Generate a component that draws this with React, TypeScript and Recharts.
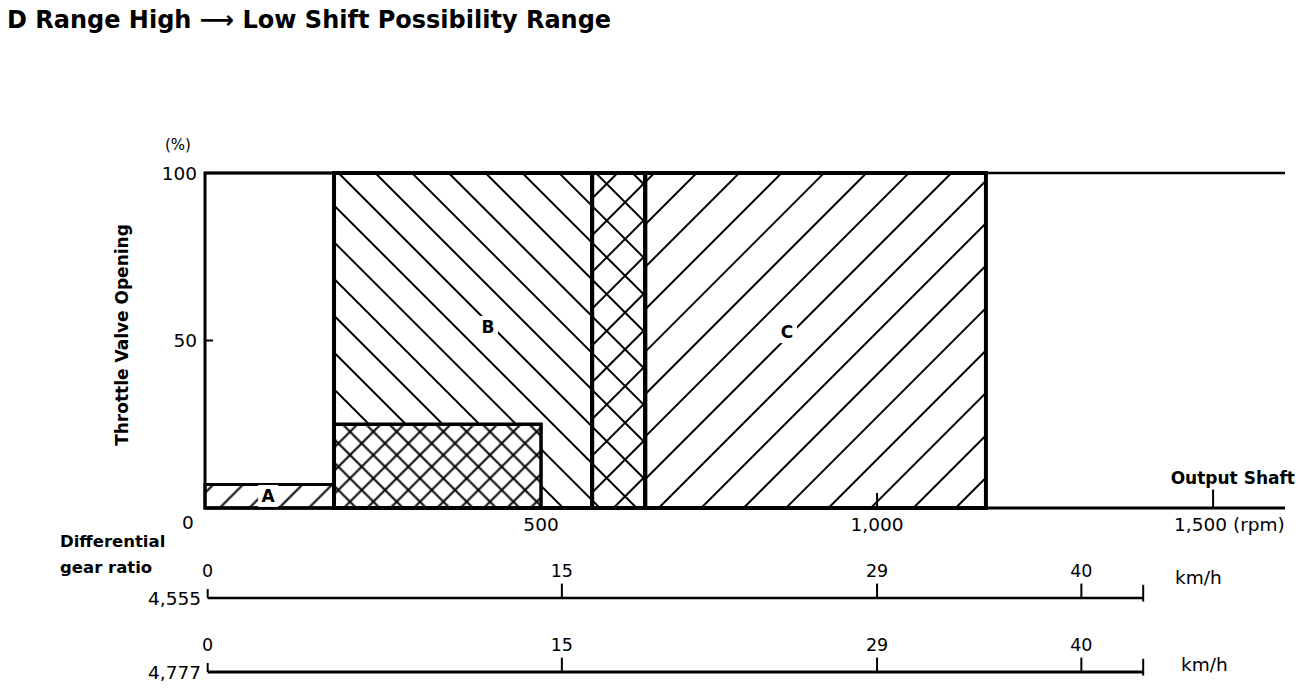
import React from 'react';
import { ComposedChart, XAxis, YAxis, ReferenceArea, ReferenceLine, Scatter } from 'recharts';

const TITLE = 'D Range High ⟶ Low Shift Possibility Range';
const RPM_MAX = 1607;
const rpmTicks = [500, 1000, 1500];
const rpmTickLabels = ['500', '1,000', '1,500 (rpm)'];
const rpmTickMarkHeights = [0, 4.5, 5.5];
const pctTicks = [50, 100];

// hatched regions (rpm, %)
const hatchAreas = [
  { key: 'A', x1: 0, x2: 192, y1: 0, y2: 7, pattern: 'hatchA' },
  { key: 'B', x1: 192, x2: 576, y1: 0, y2: 100, pattern: 'hatchB' },
  { key: 'C', x1: 655, x2: 1162, y1: 0, y2: 100, pattern: 'hatchC' },
  { key: 'AB', x1: 192, x2: 500, y1: 0, y2: 25, pattern: 'crossFine' },
  { key: 'BC', x1: 576, x2: 655, y1: 0, y2: 100, pattern: 'crossWide' },
];
const outlineAreas = [
  { x1: 0, x2: 192, y1: 0, y2: 100, w: 3 },
  { x1: 0, x2: 192, y1: 0, y2: 7, w: 3 },
  { x1: 192, x2: 576, y1: 0, y2: 100, w: 4 },
  { x1: 192, x2: 500, y1: 0, y2: 25, w: 3.5 },
  { x1: 576, x2: 655, y1: 0, y2: 100, w: 4 },
  { x1: 655, x2: 1162, y1: 0, y2: 100, w: 4 },
];
const regionLabels = [
  { x: 94, y: 3.6, name: 'A' },
  { x: 421, y: 54, name: 'B' },
  { x: 866, y: 52.5, name: 'C' },
];

// vehicle speed scales, km/h ticks placed at their output shaft rpm
const kmhLabels = ['0', '15', '29', '40'];
const kmhRpm = [4, 531, 1000, 1304];
const kmhEnd = 1396;
const gearRatios = ['4,555', '4,777'];

const FONT = '"DejaVu Sans", sans-serif';

const Patterns = () => (
  <svg width={0} height={0} style={{ position: 'absolute' }}>
    <defs>
      <pattern id="hatchA" patternUnits="userSpaceOnUse" width={21} height={21} patternTransform="rotate(45)">
        <rect width={21} height={21} fill="#fff" />
        <line x1={10.5} y1={0} x2={10.5} y2={21} stroke="#000" strokeWidth={2} />
      </pattern>
      <pattern id="hatchB" patternUnits="userSpaceOnUse" width={26} height={26} patternTransform="rotate(-45)">
        <rect width={26} height={26} fill="#fff" />
        <line x1={13} y1={0} x2={13} y2={26} stroke="#000" strokeWidth={2} />
      </pattern>
      <pattern id="hatchC" patternUnits="userSpaceOnUse" width={30} height={30} patternTransform="rotate(45)">
        <rect width={30} height={30} fill="#fff" />
        <line x1={15} y1={0} x2={15} y2={30} stroke="#000" strokeWidth={2} />
      </pattern>
      <pattern id="crossFine" patternUnits="userSpaceOnUse" width={16.5} height={16.5} patternTransform="rotate(45)">
        <rect width={16.5} height={16.5} fill="#fff" />
        <line x1={8.25} y1={0} x2={8.25} y2={16.5} stroke="#000" strokeWidth={2} />
        <line x1={0} y1={8.25} x2={16.5} y2={8.25} stroke="#000" strokeWidth={2} />
      </pattern>
      <pattern id="crossWide" patternUnits="userSpaceOnUse" width={26} height={26} patternTransform="rotate(45)">
        <rect width={26} height={26} fill="#fff" />
        <line x1={13} y1={0} x2={13} y2={26} stroke="#000" strokeWidth={2} />
        <line x1={0} y1={13} x2={26} y2={13} stroke="#000" strokeWidth={2} />
      </pattern>
    </defs>
  </svg>
);

const RpmTick = (props: any) => {
  const { x, y, payload } = props;
  const i = rpmTicks.indexOf(payload.value);
  const label = rpmTickLabels[i] ?? String(payload.value);
  const isLast = i === rpmTicks.length - 1;
  return (
    <text
      x={isLast ? x - 39 : x}
      y={y + 2}
      dy="0.71em"
      textAnchor={isLast ? 'start' : 'middle'}
      fontFamily={FONT}
      fontSize={18.5}
      fill="#000"
    >
      {label}
    </text>
  );
};

const PctTick = (props: any) => {
  const { x, y, payload } = props;
  return (
    <text x={x} y={y} dy="0.36em" textAnchor="end" fontFamily={FONT} fontSize={18.5} fill="#000">
      {payload.value}
    </text>
  );
};

const RegionLabel = (props: any) => {
  const { cx, cy, payload } = props;
  return (
    <g>
      <rect x={cx - 10} y={cy - 11} width={20} height={22} fill="#fff" />
      <text x={cx} y={cy} dy="0.36em" textAnchor="middle" fontFamily={FONT} fontWeight="bold" fontSize={17} fill="#000">
        {payload.name}
      </text>
    </g>
  );
};

const KmhLabel = (props: any) => {
  const { cx, cy, payload } = props;
  return (
    <text x={cx} y={cy} dy="0.36em" textAnchor="middle" fontFamily={FONT} fontSize={17.5} fill="#000">
      {payload.label}
    </text>
  );
};

const SpeedScale = ({ top, lineWidth }: { top: number; lineWidth: number }) => {
  const pts = kmhLabels.map((label, i) => ({ x: kmhRpm[i], y: 0.45, label }));
  return (
    <div style={{ position: 'absolute', left: 0, top, width: 1312, height: 70 }}>
      <ComposedChart width={1312} height={70} margin={{ top: 0, right: 27, bottom: 10, left: 205 }}>
        <XAxis type="number" dataKey="x" domain={[0, RPM_MAX]} hide />
        <YAxis type="number" dataKey="y" domain={[0, 1]} hide />
        <ReferenceLine
          segment={[{ x: kmhRpm[0], y: 0 }, { x: kmhEnd, y: 0 }]}
          stroke="#000"
          strokeWidth={lineWidth}
          ifOverflow="visible"
        />
        {kmhRpm.map((r, i) => (
          <ReferenceLine
            key={i}
            segment={[{ x: r, y: 0 }, { x: r, y: i === 0 ? 0.15 : 0.24 }]}
            stroke="#000"
            strokeWidth={2}
            ifOverflow="visible"
          />
        ))}
        <ReferenceLine
          segment={[{ x: kmhEnd, y: -0.06 }, { x: kmhEnd, y: 0.22 }]}
          stroke="#000"
          strokeWidth={2}
          ifOverflow="visible"
        />
        <Scatter data={pts} shape={<KmhLabel />} isAnimationActive={false} />
      </ComposedChart>
    </div>
  );
};

export default function App() {
  return (
    <div style={{ position: 'absolute', left: 0, top: 0, width: 1312, height: 692, background: '#fff', overflow: 'hidden' }}>
      <Patterns />
      <div style={{ position: 'absolute', left: 0, top: 0 }}>
        <ComposedChart width={1312} height={692} margin={{ top: 173, right: 27, bottom: 154, left: 145 }}>
          <XAxis
            type="number"
            dataKey="x"
            domain={[0, RPM_MAX]}
            ticks={rpmTicks}
            tick={<RpmTick />}
            tickLine={false}
            axisLine={{ stroke: '#000', strokeWidth: 3 }}
            height={30}
          />
          <YAxis
            type="number"
            dataKey="y"
            domain={[0, 100]}
            ticks={pctTicks}
            tick={<PctTick />}
            tickLine={false}
            axisLine={false}
            width={60}
          />
          {hatchAreas.map((a) => (
            <ReferenceArea
              key={a.key}
              x1={a.x1}
              x2={a.x2}
              y1={a.y1}
              y2={a.y2}
              fill={`url(#${a.pattern})`}
              fillOpacity={1}
              stroke="none"
            />
          ))}
          <ReferenceLine y={100} stroke="#000" strokeWidth={2.5} />
          {outlineAreas.map((a, i) => (
            <ReferenceArea
              key={i}
              x1={a.x1}
              x2={a.x2}
              y1={a.y1}
              y2={a.y2}
              fill="none"
              stroke="#000"
              strokeWidth={a.w}
            />
          ))}
          {rpmTicks.map((t, i) =>
            rpmTickMarkHeights[i] > 0 ? (
              <ReferenceLine
                key={t}
                segment={[{ x: t, y: 0 }, { x: t, y: rpmTickMarkHeights[i] }]}
                stroke="#000"
                strokeWidth={2}
              />
            ) : null
          )}
          <ReferenceLine segment={[{ x: 0, y: 50 }, { x: 12, y: 50 }]} stroke="#000" strokeWidth={2} />
          <Scatter data={regionLabels} shape={<RegionLabel />} isAnimationActive={false} />
        </ComposedChart>
      </div>
      <SpeedScale top={538} lineWidth={2.5} />
      <SpeedScale top={612} lineWidth={3} />
      <svg width={1312} height={692} style={{ position: 'absolute', left: 0, top: 0, pointerEvents: 'none' }}>
        <text x={7} y={28} fontFamily={FONT} fontWeight="bold" fontSize={24} fill="#000">{TITLE}</text>
        <text x={165} y={150} fontFamily={FONT} fontSize={15} fill="#000">(%)</text>
        <text x={188} y={522} dy="0.36em" textAnchor="middle" fontFamily={FONT} fontSize={18.5} fill="#000">0</text>
        <text
          x={122}
          y={335}
          transform="rotate(-90 122 335)"
          dy="0.36em"
          textAnchor="middle"
          fontFamily={FONT}
          fontWeight="bold"
          fontSize={17}
          fill="#000"
        >
          Throttle Valve Opening
        </text>
        <text x={1295} y={484} textAnchor="end" fontFamily={FONT} fontWeight="bold" fontSize={17} fill="#000">Output Shaft</text>
        <text x={60} y={547} fontFamily={FONT} fontWeight="bold" fontSize={16.5} fill="#000">Differential</text>
        <text x={60} y={573} fontFamily={FONT} fontWeight="bold" fontSize={16.5} fill="#000">gear ratio</text>
        <text x={201} y={605} textAnchor="end" fontFamily={FONT} fontSize={18.5} fill="#000">{gearRatios[0]}</text>
        <text x={201} y={679} textAnchor="end" fontFamily={FONT} fontSize={18.5} fill="#000">{gearRatios[1]}</text>
        <text x={1175} y={584} fontFamily={FONT} fontSize={18.5} fill="#000">km/h</text>
        <text x={1181} y={671} fontFamily={FONT} fontSize={18.5} fill="#000">km/h</text>
      </svg>
    </div>
  );
}
